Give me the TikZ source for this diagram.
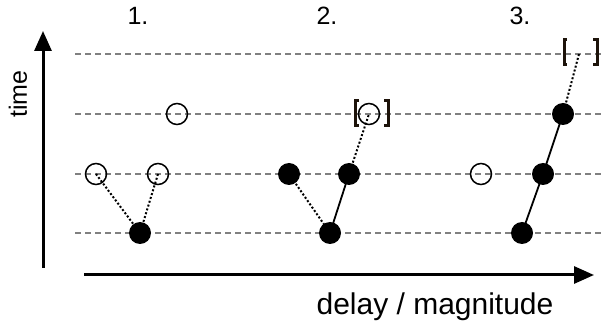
\documentclass[tikz,border=0pt]{standalone}
\usepackage{fontspec}
\setmainfont{Liberation Sans}
\usetikzlibrary{arrows.meta}
\begin{document}
\begin{tikzpicture}[x=1pt,y=-1pt,
  grid/.style={black!50,line width=1.1pt,dash pattern=on 6pt off 4pt},
  opendot/.style={circle,draw,line width=1.5pt,minimum size=21pt,inner sep=0pt},
  fulldot/.style={circle,fill,minimum size=22pt,inner sep=0pt},
  dotline/.style={line width=2pt,dash pattern=on 2pt off 2pt},
  solidline/.style={line width=1.8pt},
  axis/.style={line width=3pt,-{Triangle[width=17pt,length=20pt]}},
  brk/.style={line width=3pt,black!85!brown},
  lbl/.style={inner sep=0pt,font=\fontsize{25}{30}\selectfont}
]
\useasboundingbox (0,0) rectangle (602,328);
% grid lines
\foreach \y in {54,114,174,233} \draw[grid] (75,\y) -- (602,\y);
% axes
\coordinate (ya) at (43,268);
\coordinate (yb) at (43,31);
\coordinate (xa) at (84,275);
\coordinate (xb) at (594,275);
\draw[axis] (ya) -- (yb);
\draw[axis] (xa) -- (xb);
\node[lbl,rotate=90,font=\fontsize{25}{30}\selectfont] (tl) at (18,94) {time};
\node[lbl,anchor=base,font=\fontsize{30}{36}\selectfont] (dl) at (435,315) {delay / magnitude};
\node[lbl] (n1) at (138,16) {1.};
\node[lbl] (n2) at (327,16) {2.};
\node[lbl] (n3) at (520,16) {3.};
% panel 1
\coordinate (a1) at (96,174);
\coordinate (a2) at (158,174);
\coordinate (a3) at (177,114);
\coordinate (a4) at (140,233);
% panel 2
\coordinate (b1) at (289,174);
\coordinate (b2) at (349,174);
\coordinate (b3) at (369,114);
\coordinate (b4) at (330,233);
% panel 3
\coordinate (c1) at (481,174);
\coordinate (c2) at (543,174);
\coordinate (c3) at (563,114);
\coordinate (c4) at (522,233);
\coordinate (c5) at (579,54);
% connectors
\draw[dotline] (a1) -- (a4);
\draw[dotline] (a2) -- (a4);
\draw[dotline] (b1) -- (b4);
\draw[solidline] (b2) -- (b4);
\draw[dotline] (b2) -- (b3);
\draw[solidline] (c4) -- (c2);
\draw[solidline] (c2) -- (c3);
\draw[dotline] (c3) -- (c5);
% circles
\node[opendot] (A1) at (a1) {};
\node[opendot] (A2) at (a2) {};
\node[opendot] (A3) at (a3) {};
\node[fulldot] (A4) at (a4) {};
\node[fulldot] (B1) at (b1) {};
\node[fulldot] (B2) at (b2) {};
\node[opendot] (B3) at (b3) {};
\node[fulldot] (B4) at (b4) {};
\node[opendot] (C1) at (c1) {};
\node[fulldot] (C2) at (c2) {};
\node[fulldot] (C3) at (c3) {};
\node[fulldot] (C4) at (c4) {};
% brackets
\draw[brk] (359,101) -- (355,101) -- (355,126) -- (359,126);
\draw[brk] (384,101) -- (388,101) -- (388,126) -- (384,126);
\draw[brk] (567,40) -- (564,40) -- (564,65) -- (567,65);
\draw[brk] (593,40) -- (597,40) -- (597,65) -- (593,65);
\end{tikzpicture}
\end{document}
